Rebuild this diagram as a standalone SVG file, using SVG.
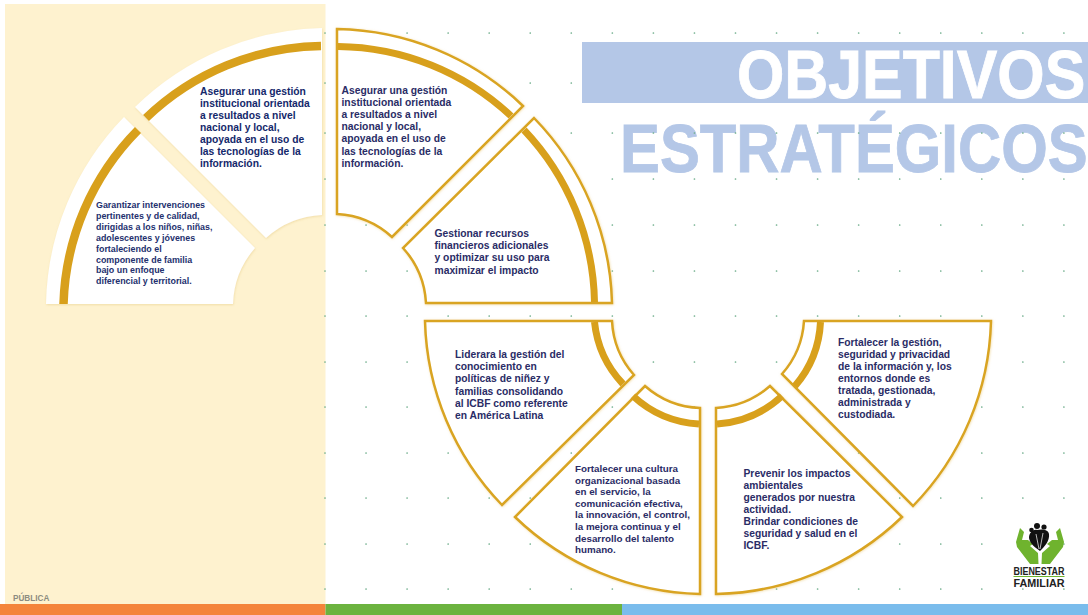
<svg xmlns="http://www.w3.org/2000/svg" width="1088" height="615" viewBox="0 0 1088 615">
<style>
.dot{stroke:#6fae8c;stroke-width:1.7;stroke-linecap:round;stroke-dasharray:0 41.05;fill:none}
.seg{fill:#fff;stroke:#d9a420;stroke-width:2.5;stroke-linejoin:miter;filter:url(#glow)}
.segl{fill:#fff;filter:url(#soft)}
.band{fill:none;stroke:#d8a01c;stroke-width:7}
.bandl{fill:none;stroke:#d8a01c;stroke-width:8.5}
.t{font-family:"Liberation Sans",Arial,sans-serif;font-weight:700;font-size:10.3px;fill:#2a2c66}
.tl{fill:#14286b;font-size:10.3px}
.ts{fill:#23306e;font-size:8.9px}
.title{font-family:"Liberation Sans",Arial,sans-serif;font-weight:700;font-size:68px;stroke-width:0.8px}
.lt{font-family:"Liberation Sans",Arial,sans-serif;font-weight:700;font-size:11px;fill:#222}
</style>
<defs>
<filter id="glow" x="-5%" y="-5%" width="110%" height="110%"><feDropShadow dx="0.5" dy="0.5" stdDeviation="1" flood-color="#e8c870" flood-opacity="0.6"/></filter>
<filter id="soft" x="-5%" y="-5%" width="110%" height="110%"><feDropShadow dx="0.5" dy="1" stdDeviation="1" flood-color="#d9b860" flood-opacity="0.35"/></filter>
</defs>
<rect width="1088" height="615" fill="#fff"/>
<rect x="5" y="4" width="320.5" height="600" fill="#fef2cf"/>
<text class="title" transform="translate(620 172) scale(0.88 1)" fill="#b4c7e7" stroke="#b4c7e7">ESTRATÉGICOS</text>
<g id="dots">
<line class="dot" x1="325" x2="1070" y1="33" y2="33"/>
<line class="dot" x1="325" x2="1070" y1="83" y2="83"/>
<line class="dot" x1="325" x2="1070" y1="133" y2="133"/>
<line class="dot" x1="325" x2="1070" y1="179" y2="179"/>
<line class="dot" x1="325" x2="1070" y1="225" y2="225"/>
<line class="dot" x1="325" x2="1070" y1="271" y2="271"/>
<line class="dot" x1="325" x2="1070" y1="316" y2="316"/>
<line class="dot" x1="325" x2="1070" y1="362" y2="362"/>
<line class="dot" x1="325" x2="1070" y1="407" y2="407"/>
<line class="dot" x1="325" x2="1070" y1="453" y2="453"/>
<line class="dot" x1="325" x2="1070" y1="498" y2="498"/>
<line class="dot" x1="325" x2="1070" y1="544" y2="544"/>
<line class="dot" x1="325" x2="1070" y1="589" y2="589"/>
</g>
<rect x="582" y="42" width="506" height="61" fill="#b4c7e7"/>
<text class="title" transform="translate(737 98) scale(0.895 1)" fill="#fff" stroke="#fff">OBJETIVOS</text>
<g id="bars">
<rect x="0" y="604" width="325.5" height="11" fill="#f4843b"/>
<rect x="325.5" y="604" width="296.5" height="11" fill="#6cb33f"/>
<rect x="622" y="604" width="466" height="11" fill="#7abcec"/>
</g>
<text x="13" y="600.500" font-family="Liberation Sans,Arial,sans-serif" font-weight="700" font-size="8.2" fill="#8c8c80">PÚBLICA</text>

<g id="node-left-top">
<path class="segl" d="M322,28 A276,276 0 0 0 135,107 L266,238 A89,89 0 0 1 322,215 Z"/>
<path class="bandl" d="M321,46 A258,258 0 0 0 146,118"/>
<text class="t tl" y="95"><tspan x="200">Asegurar una gestión</tspan><tspan x="200" dy="12">institucional orientada</tspan><tspan x="200" dy="12">a resultados a nivel</tspan><tspan x="200" dy="12">nacional y local,</tspan><tspan x="200" dy="12">apoyada en el uso de</tspan><tspan x="200" dy="12">las tecnologías de la</tspan><tspan x="200" dy="12">información.</tspan></text>
</g>
<g id="node-left-bottom">
<path class="segl" d="M124,117 A276,276 0 0 0 46,304 L233,304 A89,89 0 0 1 255,248 Z"/>
<path class="bandl" d="M138,130 A258,258 0 0 0 63.500,304"/>
<text class="t ts" y="208"><tspan x="96">Garantizar intervenciones</tspan><tspan x="96" dy="10.900">pertinentes y de calidad,</tspan><tspan x="96" dy="10.900">dirigidas a los niños, niñas,</tspan><tspan x="96" dy="10.900">adolescentes y jóvenes</tspan><tspan x="96" dy="10.900">fortaleciendo el</tspan><tspan x="96" dy="10.900">componente de familia</tspan><tspan x="96" dy="10.900">bajo un enfoque</tspan><tspan x="96" dy="10.900">diferencial y territorial.</tspan></text>
</g>

<g id="node-top-a">
<path class="seg" d="M337,29 A275,275 0 0 1 523,106 L392,237 A89,89 0 0 0 337,214 Z"/>
<path class="band" d="M338,46.500 A257,257 0 0 1 511,116"/>
<text class="t" y="94"><tspan x="341.500">Asegurar una gestión</tspan><tspan x="341.500" dy="12.100">institucional orientada</tspan><tspan x="341.500" dy="12.100">a resultados a nivel</tspan><tspan x="341.500" dy="12.100">nacional y local,</tspan><tspan x="341.500" dy="12.100">apoyada en el uso de</tspan><tspan x="341.500" dy="12.100">las tecnologías de la</tspan><tspan x="341.500" dy="12.100">información.</tspan></text>
</g>
<g id="node-top-b">
<path class="seg" d="M534,118 A275,275 0 0 1 612,303 L426,303 A89,89 0 0 0 403,248 Z"/>
<path class="band" d="M524,130 A257,257 0 0 1 594.500,302"/>
<text class="t" y="237"><tspan x="434.500">Gestionar recursos</tspan><tspan x="434.500" dy="12.200">financieros adicionales</tspan><tspan x="434.500" dy="12.200">y optimizar su uso para</tspan><tspan x="434.500" dy="12.200">maximizar el impacto</tspan></text>
</g>

<g id="node-bottom-a">
<path class="seg" d="M425,321 L612,321 A88,88 0 0 0 634,375 L502,505 A275,275 0 0 1 425,321 Z"/>
<path class="band" d="M594.500,322 A106,106 0 0 0 623,384"/>
<text class="t" y="358"><tspan x="455">Liderara la gestión del</tspan><tspan x="455" dy="12.200">conocimiento en</tspan><tspan x="455" dy="12.200">políticas de niñez y</tspan><tspan x="455" dy="12.200">familias consolidando</tspan><tspan x="455" dy="12.200">al ICBF como referente</tspan><tspan x="455" dy="12.200">en América Latina</tspan></text>
</g>
<g id="node-bottom-b">
<path class="seg" d="M645,386 A88,88 0 0 0 700,408 L700,594 A275,275 0 0 1 515,517 Z"/>
<path class="band" d="M633,396 A106,106 0 0 0 699,424"/>
<text class="t" style="font-size:9.800px" y="472"><tspan x="575">Fortalecer una cultura</tspan><tspan x="575" dy="11.600">organizacional basada</tspan><tspan x="575" dy="11.600">en el servicio, la</tspan><tspan x="575" dy="11.600">comunicación efectiva,</tspan><tspan x="575" dy="11.600">la innovación, el control,</tspan><tspan x="575" dy="11.600">la mejora continua y el</tspan><tspan x="575" dy="11.600">desarrollo del talento</tspan><tspan x="575" dy="11.600">humano.</tspan></text>
</g>
<g id="node-bottom-c">
<path class="seg" d="M770,386 A88,88 0 0 1 716,408 L716,594 A275,275 0 0 0 902,517 Z"/>
<path class="band" d="M782,396 A106,106 0 0 1 717,424"/>
<text class="t" y="477"><tspan x="743.500">Prevenir los impactos</tspan><tspan x="743.500" dy="12">ambientales</tspan><tspan x="743.500" dy="12">generados por nuestra</tspan><tspan x="743.500" dy="12">actividad.</tspan><tspan x="743.500" dy="12">Brindar condiciones de</tspan><tspan x="743.500" dy="12">seguridad y salud en el</tspan><tspan x="743.500" dy="12">ICBF.</tspan></text>
</g>
<g id="node-bottom-d">
<path class="seg" d="M804,321 L991,321 A275,275 0 0 1 913,506 L782,374 A88,88 0 0 0 804,321 Z"/>
<path class="band" d="M820.500,322 A106,106 0 0 1 795,386"/>
<text class="t" y="346"><tspan x="838">Fortalecer la gestión,</tspan><tspan x="838" dy="12">seguridad y privacidad</tspan><tspan x="838" dy="12">de la información y, los</tspan><tspan x="838" dy="12">entornos donde es</tspan><tspan x="838" dy="12">tratada, gestionada,</tspan><tspan x="838" dy="12">administrada y</tspan><tspan x="838" dy="12">custodiada.</tspan></text>
</g>

<g id="logo">
<path fill="#6fb32e" d="M1020,528 L1024,532 L1022,540 L1028,540 L1033,544 L1030,546 L1038,553 L1038.500,564 L1030,564 L1017,547 L1016,542 Z"/>
<path fill="#6fb32e" d="M1060,528 L1056,532 L1058,540 L1052,540 L1047,544 L1050,546 L1042,553 L1041.500,564 L1050,564 L1063,547 L1064,542 Z"/>
<path fill="#111" d="M1029,538 C1029,532 1034,529 1037,530 C1041,529 1048,529 1049,534 C1050,541 1044,547 1040,551 C1036,548 1030,544 1029,538 Z"/>
<path fill="none" stroke="#fff" stroke-width="0.7" d="M1036,534 L1039,549 M1043,533 L1040,549"/>
<circle cx="1037" cy="526" r="3" fill="#111"/><circle cx="1044" cy="527" r="2.600" fill="#111"/><circle cx="1031.500" cy="530" r="2.300" fill="#111"/>
<text class="lt" x="1013.500" y="575" textLength="51" lengthAdjust="spacingAndGlyphs">BIENESTAR</text>
<rect x="1013.500" y="576" width="51" height="1" fill="#6fb32e"/>
<text class="lt" x="1013.500" y="586.500" textLength="51" lengthAdjust="spacingAndGlyphs">FAMILIAR</text>
</g>
</svg>
